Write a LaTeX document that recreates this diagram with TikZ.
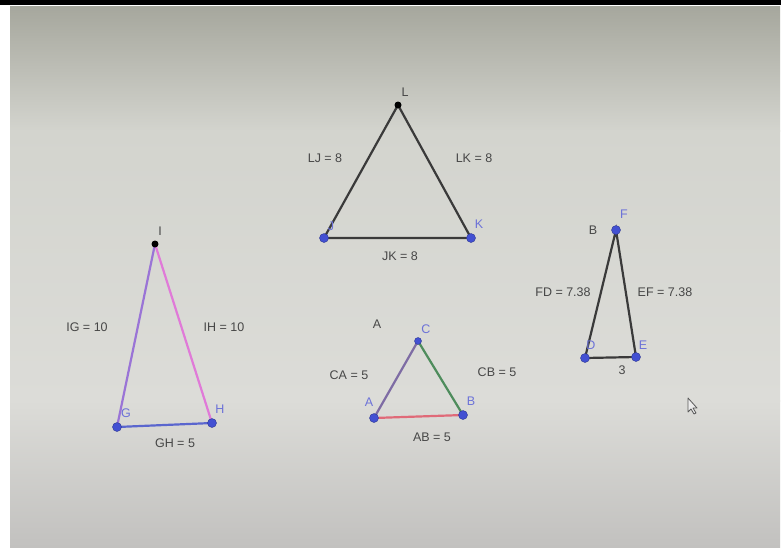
\documentclass[tikz,border=0pt]{standalone}
\usepackage{fontspec}
\setmainfont{Liberation Sans}
\definecolor{txt}{HTML}{474747}
\definecolor{vlab}{HTML}{6C72D8}
\definecolor{dotblue}{HTML}{4250D2}
\definecolor{segdark}{HTML}{3A3A3A}
\definecolor{segpurple}{HTML}{9A74D6}
\definecolor{segpink}{HTML}{E07AD8}
\definecolor{segblue}{HTML}{5A66CE}
\definecolor{segca}{HTML}{7E6CA4}
\definecolor{segcb}{HTML}{4E8C5C}
\definecolor{segab}{HTML}{E06A78}
\definecolor{bgtop}{HTML}{A6A79D}
\definecolor{bgup}{HTML}{D3D4CE}
\definecolor{bgmid}{HTML}{DCDCD8}
\definecolor{bgbot}{HTML}{C2C1BF}
\tikzset{
  lab/.style={text=txt, font=\fontsize{12.5}{14}\selectfont, inner sep=0pt},
  vl/.style={text=vlab, font=\fontsize{12.5}{14}\selectfont, inner sep=0pt},
  bdot/.style={circle, fill=dotblue, draw=dotblue!70!black, inner sep=0pt, minimum size=9pt},
  kdot/.style={circle, fill=black, inner sep=0pt, minimum size=7pt},
  seg/.style={line width=2.2pt}
}
\begin{document}
\begin{tikzpicture}[x=1pt,y=-1pt]
\useasboundingbox (0,0) rectangle (781,550);
\fill[white] (0,0) rectangle (781,550);
\shade[top color=bgtop, bottom color=bgup] (10,6) rectangle (780,131);
\shade[top color=bgup, bottom color=bgmid] (10,130) rectangle (780,401);
\shade[top color=bgmid, bottom color=bgbot] (10,400) rectangle (780,547);
\fill[black] (0,0) rectangle (781,5);

% triangle JKL
\coordinate (L) at (398,105);
\coordinate (J) at (324,238);
\coordinate (K) at (471,238);
\draw[seg, segdark] (L) -- (J) -- (K) -- cycle;
\node[kdot] (Ld) at (L) {};
\node[bdot] (Jd) at (J) {};
\node[bdot] (Kd) at (K) {};
\node[lab] (Ll) at (405,92) {L};
\node[vl] (Jl) at (331,226) {J};
\node[vl] (Kl) at (479,224) {K};
\node[lab] (LJ) at (325,158) {LJ = 8};
\node[lab] (LK) at (474,158) {LK = 8};
\node[lab] (JK) at (400,256) {JK = 8};

% triangle GHI
\coordinate (I) at (155,244);
\coordinate (G) at (117,427);
\coordinate (H) at (212,423);
\draw[seg, segpurple] (I) -- (G);
\draw[seg, segpink] (I) -- (H);
\draw[seg, segblue] (G) -- (H);
\node[kdot] (Id) at (I) {};
\node[bdot] (Gd) at (G) {};
\node[bdot] (Hd) at (H) {};
\node[lab] (Il) at (160,231) {I};
\node[vl] (Gl) at (126,413) {G};
\node[vl] (Hl) at (220,409) {H};
\node[lab] (IG) at (87,327) {IG = 10};
\node[lab] (IH) at (224,327) {IH = 10};
\node[lab] (GH) at (175,443) {GH = 5};

% triangle ABC
\coordinate (C) at (418,341);
\coordinate (A) at (374,418);
\coordinate (B) at (463,415);
\draw[seg, segca] (C) -- (A);
\draw[seg, segcb] (C) -- (B);
\draw[seg, segab] (A) -- (B);
\node[bdot, minimum size=7pt] (Cd) at (C) {};
\node[bdot] (Ad) at (A) {};
\node[bdot] (Bd) at (B) {};
\node[lab] (Astray) at (377,324) {A};
\node[vl] (Cl) at (426,329) {C};
\node[vl] (Al) at (369,402) {A};
\node[vl] (Bl) at (471,401) {B};
\node[lab] (CA) at (349,375) {CA = 5};
\node[lab] (CB) at (497,372) {CB = 5};
\node[lab] (AB) at (432,437) {AB = 5};

% triangle DEF
\coordinate (F) at (616,230);
\coordinate (D) at (585,358);
\coordinate (E) at (636,357);
\draw[seg, segdark] (F) -- (D) -- (E) -- cycle;
\node[bdot] (Fd) at (F) {};
\node[bdot] (Dd) at (D) {};
\node[bdot] (Ed) at (E) {};
\node[lab] (Bstray) at (593,230) {B};
\node[vl] (Fl) at (624,214) {F};
\node[vl] (Dl) at (591,345) {D};
\node[vl] (El) at (643,345) {E};
\node[lab] (FD) at (563,292) {FD = 7.38};
\node[lab] (EF) at (665,292) {EF = 7.38};
\node[lab] (DE) at (622,370) {3};

% mouse cursor
\draw[gray!70!black, fill=gray!15, line width=0.8pt, line join=round]
  (688,398) -- (688,412) -- (691,409) -- (694,414) -- (696,413) -- (693,408) -- (697,408) -- cycle;
\end{tikzpicture}
\end{document}
